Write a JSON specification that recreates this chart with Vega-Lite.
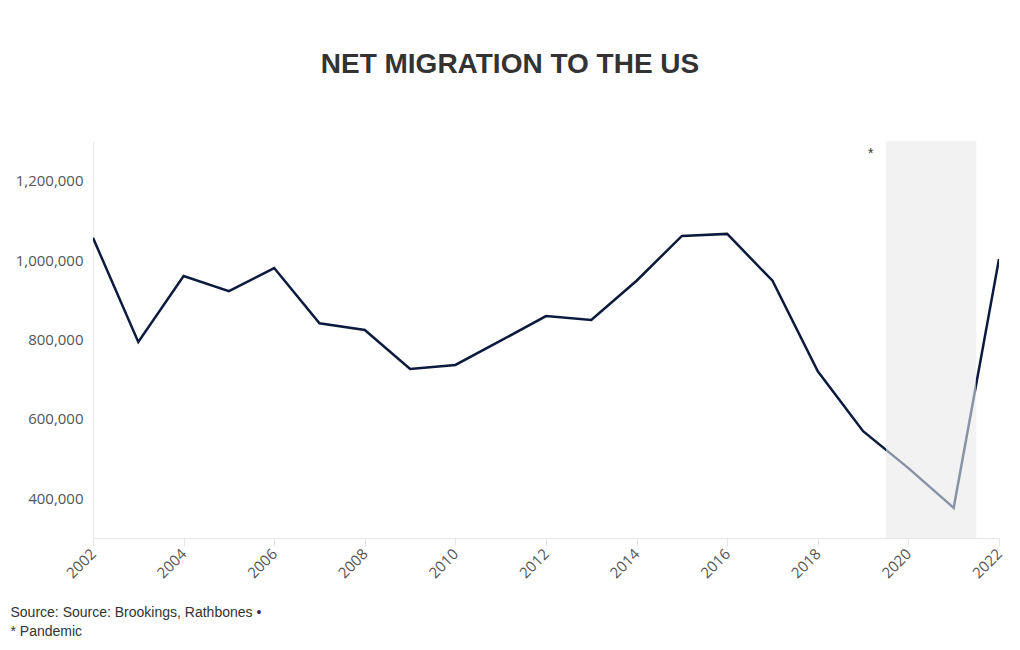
{
  "$schema": "https://vega.github.io/schema/vega-lite/v6.json",
  "width": 906,
  "height": 397,
  "autosize": {"type": "none"},
  "padding": {"left": 93, "top": 141, "right": 21, "bottom": 112},
  "background": "white",
  "title": {
    "text": "NET MIGRATION TO THE US",
    "font": "Liberation Sans",
    "fontSize": 28,
    "fontWeight": "bold",
    "color": "#333333",
    "anchor": "middle",
    "dx": -36,
    "offset": 62
  },
  "config": {"view": {"stroke": null}},
  "datasets": {
    "series": [
      {"year": 2002, "value": 1056000},
      {"year": 2003, "value": 794000},
      {"year": 2004, "value": 960000},
      {"year": 2005, "value": 922000},
      {"year": 2006, "value": 980000},
      {"year": 2007, "value": 841000},
      {"year": 2008, "value": 824000},
      {"year": 2009, "value": 726000},
      {"year": 2010, "value": 736000},
      {"year": 2011, "value": 797000},
      {"year": 2012, "value": 859000},
      {"year": 2013, "value": 849000},
      {"year": 2014, "value": 948000},
      {"year": 2015, "value": 1061000},
      {"year": 2016, "value": 1066000},
      {"year": 2017, "value": 948000},
      {"year": 2018, "value": 720000},
      {"year": 2019, "value": 569000},
      {"year": 2020, "value": 476000},
      {"year": 2021, "value": 376000},
      {"year": 2022, "value": 1003000}
    ],
    "bands": [
      {"start": 2019.5, "end": 2021.5, "label": "*"}
    ]
  },
  "layer": [
    {
      "data": {"name": "bands"},
      "mark": {"type": "rect", "color": "#f2f2f2"},
      "encoding": {
        "x": {"field": "start", "type": "quantitative"},
        "x2": {"field": "end"},
        "y": {"datum": 300000},
        "y2": {"datum": 1300000}
      }
    },
    {
      "data": {"name": "bands"},
      "mark": {"type": "text", "font": "Liberation Sans", "fontSize": 14, "color": "#333333", "dx": -15, "dy": 13, "baseline": "middle", "align": "center"},
      "encoding": {
        "x": {"field": "start", "type": "quantitative"},
        "y": {"datum": 1300000},
        "text": {"field": "label"}
      }
    },
    {
      "data": {"name": "series"},
      "mark": {
        "type": "line",
        "strokeWidth": 2.5,
        "clip": true,
        "stroke": {
          "gradient": "linear",
          "x1": 0, "x2": 1, "y1": 0, "y2": 0,
          "stops": [
            {"offset": 0, "color": "#0b1a3d"},
            {"offset": 0.875, "color": "#0b1a3d"},
            {"offset": 0.875, "color": "#8a93a5"},
            {"offset": 0.975, "color": "#8a93a5"},
            {"offset": 0.975, "color": "#0b1a3d"},
            {"offset": 1, "color": "#0b1a3d"}
          ]
        }
      },
      "encoding": {
        "x": {
          "field": "year",
          "type": "quantitative",
          "scale": {"domain": [2002, 2022], "nice": false, "zero": false},
          "axis": {
            "values": [2002, 2004, 2006, 2008, 2010, 2012, 2014, 2016, 2018, 2020, 2022],
            "format": "d",
            "labelAngle": -45,
            "labelAlign": "right",
            "labelBaseline": "middle",
            "labelFont": "Open Sans",
            "labelFontSize": 15,
            "labelColor": "#555555",
            "labelPadding": 5,
            "grid": false,
            "domainColor": "#e6e6e6",
            "tickColor": "#e6e6e6",
            "tickSize": 8,
            "title": ["Source: Source: Brookings, Rathbones •", "* Pandemic"],
            "titleFont": "Liberation Sans",
            "titleFontSize": 14,
            "titleFontWeight": "normal",
            "titleColor": "#333333",
            "titleAnchor": "start",
            "titleAlign": "left",
            "titleBaseline": "alphabetic",
            "titleLineHeight": 19,
            "titleX": -83,
            "titleY": 78
          }
        },
        "y": {
          "field": "value",
          "type": "quantitative",
          "scale": {"domain": [300000, 1300000], "nice": false, "zero": false},
          "axis": {
            "values": [400000, 600000, 800000, 1000000, 1200000],
            "format": ",d",
            "labelFont": "Open Sans",
            "labelFontSize": 15,
            "labelColor": "#555555",
            "labelPadding": 10,
            "ticks": false,
            "gridColor": "#ebebeb",
            "domainColor": "#ebebeb",
            "title": null
          }
        }
      }
    }
  ]
}
